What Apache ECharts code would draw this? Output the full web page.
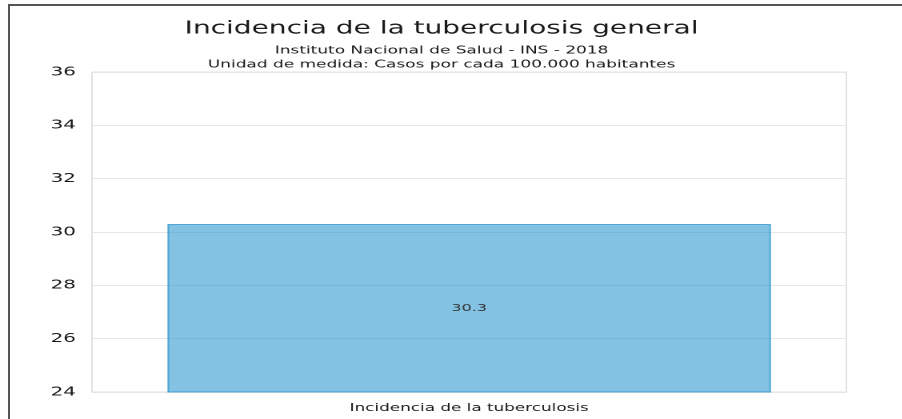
<!DOCTYPE html>
<html>
<head>
<meta charset="utf-8">
<script src="https://cdn.jsdelivr.net/npm/echarts@6/dist/echarts.min.js"></script>
<style>
  html, body { margin: 0; padding: 0; background: #fff; }
  #wrap { position: relative; width: 902px; height: 419px; overflow: hidden; }
  /* the source picture is stretched sideways, so the chart is drawn narrower and widened */
  #chart { position: absolute; left: 0; top: 0; width: 564px; height: 419px;
           transform: scaleX(1.6); transform-origin: 0 0; }
  #frame { position: absolute; left: 8px; top: 4px; width: 1000px; height: 1000px;
           border-top: 2px solid #555; border-left: 2px solid #555; pointer-events: none; }
</style>
</head>
<body>
<div id="wrap">
  <div id="chart"></div>
  <div id="frame"></div>
</div>
<script>
const categories = ['Incidencia de la tuberculosis'];
const values = [30.3];
const yTicks = [24, 26, 28, 30, 32, 34, 36];

const chart = echarts.init(document.getElementById('chart'), null, { devicePixelRatio: 2 });
const font = 'DejaVu Sans';
const option = {
  animation: false,
  textStyle: { fontFamily: font },
  title: [
    { text: 'Incidencia de la tuberculosis general', left: 271, top: 15, textAlign: 'center',
      textStyle: { fontSize: 17.5, fontWeight: 'normal', color: '#1a1a1a', fontFamily: font } },
    { text: 'Instituto Nacional de Salud - INS - 2018', left: 271, top: 40, textAlign: 'center',
      textStyle: { fontSize: 10.6, fontWeight: 'normal', color: '#1a1a1a', fontFamily: font } },
    { text: 'Unidad de medida: Casos por cada 100.000 habitantes', left: 271, top: 54, textAlign: 'center',
      textStyle: { fontSize: 10.6, fontWeight: 'normal', color: '#1a1a1a', fontFamily: font } }
  ],
  grid: { left: 57.5, right: 35, top: 72, bottom: 27, show: true, borderColor: '#e2e2e2', borderWidth: 1 },
  xAxis: {
    type: 'category',
    data: categories,
    axisLine: { show: false },
    axisTick: { show: false },
    axisLabel: { color: '#1a1a1a', fontSize: 10.5, margin: 11, fontFamily: font }
  },
  yAxis: {
    type: 'value',
    min: yTicks[0],
    max: yTicks[yTicks.length - 1],
    interval: 2,
    axisLine: { show: false },
    axisTick: { show: false },
    splitLine: { lineStyle: { color: '#e6e6e6', width: 1 } },
    axisLabel: { color: '#1a1a1a', fontSize: 12.5, margin: 10, fontFamily: font }
  },
  series: [{
    type: 'bar',
    data: values,
    barWidth: '80%',
    itemStyle: { color: 'rgba(30,144,204,0.55)', borderColor: 'rgba(30,144,204,0.7)', borderWidth: 1 },
    label: { show: true, position: 'inside', color: '#333', fontSize: 10, fontFamily: font }
  }]
};
chart.setOption(option);
</script>
</body>
</html>
